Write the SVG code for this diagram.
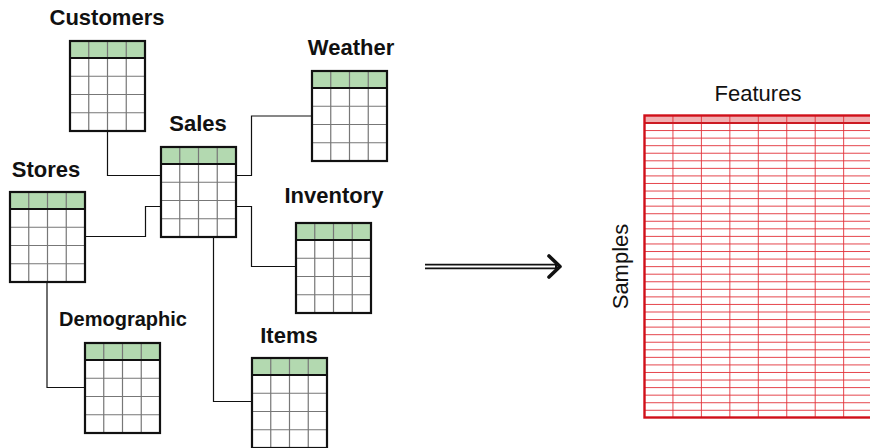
<svg xmlns="http://www.w3.org/2000/svg" xmlns:xlink="http://www.w3.org/1999/xlink" width="870" height="448" viewBox="0 0 870 448">
  <style>
    .lbl { font-family: "Liberation Sans", Arial, sans-serif; font-weight: bold; font-size: 22px; fill: #111; text-anchor: middle; }
    .lbl.small { font-size: 20px; }
    .plain { font-family: "Liberation Sans", Arial, sans-serif; font-size: 22px; fill: #111; text-anchor: middle; }
    .conn { fill: none; stroke: #111; stroke-width: 1.2; }
    .grid { stroke: #777; stroke-width: 1.2; fill: none; }
    .outer { fill: none; stroke: #111; stroke-width: 2.2; }
    .mgrid { stroke: #e2323a; stroke-width: 1; fill: none; opacity: 0.9; }
  </style>
  <defs>
    <g id="tbl">
      <rect x="0" y="0" width="75" height="90" fill="#fff"/>
      <rect x="0" y="0" width="75" height="17" fill="#b3d9b0"/>
      <path class="grid" d="M18.75,0 V90 M37.5,0 V90 M56.25,0 V90 M0,35.25 H75 M0,53.5 H75 M0,71.75 H75"/>
      <path d="M0,17 H75" stroke="#111" stroke-width="2"/>
      <rect class="outer" x="0" y="0" width="75" height="90"/>
    </g>
  </defs>

  <g id="connectors">
    <path class="conn" d="M107.5,131 V175.5 H161"/>
    <path class="conn" d="M86,236.5 H145.5 V206.5 H161"/>
    <path class="conn" d="M236,175.5 H251.5 V116 H312"/>
    <path class="conn" d="M236,206.5 H251.5 V266.5 H296"/>
    <path class="conn" d="M213.5,237 V401.5 H252"/>
    <path class="conn" d="M47,282 V387.5 H85"/>
  </g>

  <g id="customers">
    <text class="lbl" x="107" y="25">Customers</text>
    <use xlink:href="#tbl" x="70" y="41"/>
  </g>
  <g id="sales">
    <text class="lbl" x="198" y="131">Sales</text>
    <use xlink:href="#tbl" x="161" y="147"/>
  </g>
  <g id="weather">
    <text class="lbl" x="351" y="55">Weather</text>
    <use xlink:href="#tbl" x="312" y="71"/>
  </g>
  <g id="stores">
    <text class="lbl" x="46" y="177">Stores</text>
    <use xlink:href="#tbl" x="10" y="192"/>
  </g>
  <g id="inventory">
    <text class="lbl" x="334" y="203">Inventory</text>
    <use xlink:href="#tbl" x="296" y="223"/>
  </g>
  <g id="demographic">
    <text class="lbl small" x="123" y="326">Demographic</text>
    <use xlink:href="#tbl" x="85" y="343"/>
  </g>
  <g id="items">
    <text class="lbl" x="289" y="343">Items</text>
    <use xlink:href="#tbl" x="252" y="358"/>
  </g>

  <g id="transform-arrow">
    <line x1="425" y1="266.5" x2="557" y2="266.5" stroke="#111" stroke-width="5.5"/>
    <line x1="425" y1="266.5" x2="555" y2="266.5" stroke="#fff" stroke-width="2"/>
    <polyline points="549,256 560,266.5 549,277" fill="none" stroke="#111" stroke-width="3.6" stroke-linecap="round" stroke-linejoin="round"/>
  </g>

  <g id="feature-matrix">
    <text class="plain" x="758" y="101">Features</text>
    <text class="plain" transform="translate(628,266.5) rotate(-90)">Samples</text>
    <rect x="644.5" y="115.5" width="228" height="302" fill="#fff"/>
    <rect x="644.5" y="115.5" width="228" height="7.5" fill="#f0b0b2"/>
    <path class="mgrid" d="M672.95,115.5 V417.5 M701.4,115.5 V417.5 M729.85,115.5 V417.5 M758.3,115.5 V417.5 M786.75,115.5 V417.5 M815.2,115.5 V417.5 M843.65,115.5 V417.5"/>
    <path class="mgrid" d="M644.5,130.56 H872 M644.5,138.12 H872 M644.5,145.68 H872 M644.5,153.24 H872 M644.5,160.8 H872 M644.5,168.36 H872 M644.5,175.92 H872 M644.5,183.48 H872 M644.5,191.04 H872 M644.5,198.6 H872 M644.5,206.16 H872 M644.5,213.72 H872 M644.5,221.28 H872 M644.5,228.84 H872 M644.5,236.4 H872 M644.5,243.96 H872 M644.5,251.52 H872 M644.5,259.08 H872 M644.5,266.64 H872 M644.5,274.2 H872 M644.5,281.76 H872 M644.5,289.32 H872 M644.5,296.88 H872 M644.5,304.44 H872 M644.5,312 H872 M644.5,319.56 H872 M644.5,327.12 H872 M644.5,334.68 H872 M644.5,342.24 H872 M644.5,349.8 H872 M644.5,357.36 H872 M644.5,364.92 H872 M644.5,372.48 H872 M644.5,380.04 H872 M644.5,387.6 H872 M644.5,395.16 H872 M644.5,402.72 H872 M644.5,410.28 H872"/>
    <path d="M644.5,123 H872" stroke="#cc1a22" stroke-width="2" fill="none"/>
    <rect x="644.5" y="115.5" width="228" height="302" fill="none" stroke="#d0101a" stroke-width="2.4"/>
  </g>
</svg>
